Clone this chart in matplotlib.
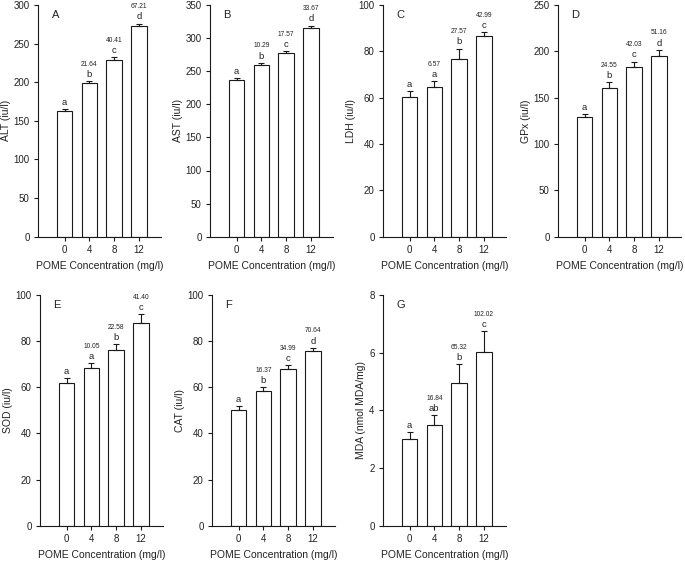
import matplotlib
matplotlib.use("Agg")
import matplotlib.pyplot as plt
import numpy as np

plt.rcParams['font.family'] = ['Liberation Sans', 'DejaVu Sans']

concentrations = ["0", "4", "8", "12"]

panel_letters = ["A", "B", "C", "D", "E", "F", "G"]
ylabels = ["ALT (iu/l)", "AST (iu/l)", "LDH (iu/l)", "GPx (iu/l)",
           "SOD (iu/l)", "CAT (iu/l)", "MDA (nmol MDA/mg)"]

alt_mean = [163, 198.5, 229, 272.5]
alt_err = [2.5, 3, 4, 3.5]
ast_mean = [236, 260, 277, 316]
ast_err = [3, 3, 3.5, 3]
ldh_mean = [60.3, 64.5, 76.9, 86.5]
ldh_err = [2.6, 2.8, 4.3, 1.7]
gpx_mean = [129.5, 160.8, 183.5, 195.3]
gpx_err = [3, 6, 5.5, 6.5]
sod_mean = [62, 68.2, 76.2, 88]
sod_err = [1.9, 2.2, 2.4, 3.6]
cat_mean = [50.1, 58.4, 67.8, 75.7]
cat_err = [1.6, 1.6, 1.9, 1.5]
mda_mean = [2.99, 3.49, 4.94, 6.01]
mda_err = [0.25, 0.35, 0.65, 0.75]

means = [alt_mean, ast_mean, ldh_mean, gpx_mean, sod_mean, cat_mean, mda_mean]
errs = [alt_err, ast_err, ldh_err, gpx_err, sod_err, cat_err, mda_err]

letters = [["a", "b", "c", "d"], ["a", "b", "c", "d"], ["a", "a", "b", "c"],
           ["a", "b", "c", "d"], ["a", "a", "b", "c"], ["a", "b", "c", "d"],
           ["a", "ab", "b", "c"]]
percents = [["", "21.64", "40.41", "67.21"], ["", "10.29", "17.57", "33.67"],
            ["", "6.57", "27.57", "42.99"], ["", "24.55", "42.03", "51.16"],
            ["", "10.05", "22.58", "41.40"], ["", "16.37", "34.99", "70.64"],
            ["", "16.84", "65.32", "102.02"]]

ymax = [300, 350, 100, 250, 100, 100, 8]
ystep = [50, 50, 20, 50, 20, 20, 2]

W, H = 685, 561
fig = plt.figure(figsize=(W / 100, H / 100), dpi=100)

lefts_px = [38, 210, 383, 558, 40, 212, 383]
width_px = 123
top_row = ((561 - 236.7) / 561, (236.7 - 5) / 561)
bot_row = ((561 - 525.7) / 561, (525.7 - 295) / 561)

txt = '#222222'
x = np.arange(len(concentrations))

for i in range(7):
    b, h = top_row if i < 4 else bot_row
    ax = fig.add_axes([lefts_px[i] / W, b, width_px / W, h])
    ax.bar(x, means[i], width=0.63, color='white', edgecolor='#1a1a1a',
           linewidth=0.8, zorder=2)
    ax.errorbar(x, means[i], yerr=[np.zeros(4), errs[i]], fmt='none',
                ecolor='#1a1a1a', elinewidth=0.8, capsize=2.2, capthick=0.8,
                zorder=3)
    for j in range(4):
        top = means[i][j] + errs[i][j]
        ax.annotate(letters[i][j], (x[j], top), xytext=(0, 1.5),
                    textcoords='offset points', ha='center', va='bottom',
                    fontsize=6.8, color=txt)
        if percents[i][j]:
            ax.annotate(percents[i][j], (x[j], top), xytext=(0, 9.5),
                        textcoords='offset points', ha='center', va='bottom',
                        fontsize=4.8, color=txt)
    ax.set_xlim(-1.08, 3.9)
    ax.set_ylim(0, ymax[i])
    ax.set_yticks(np.arange(0, ymax[i] + ystep[i] / 2, ystep[i]))
    ax.set_xticks(x)
    ax.set_xticklabels(concentrations)
    for s in ['top', 'right']:
        ax.spines[s].set_visible(False)
    for s in ['left', 'bottom']:
        ax.spines[s].set_linewidth(0.8)
        ax.spines[s].set_color('#1a1a1a')
    ax.tick_params(axis='both', direction='out', length=3, width=0.8,
                   labelsize=7, colors='#1a1a1a', labelcolor=txt, pad=3)
    ax.set_xlabel("POME Concentration (mg/l)", fontsize=7.5, color=txt, labelpad=4)
    ax.set_ylabel(ylabels[i], fontsize=7.5, color=txt, labelpad=2)
    ax.text(0.11, 0.955, panel_letters[i], transform=ax.transAxes,
            ha='left', va='center', fontsize=8, color=txt)

fig.savefig("out.png", dpi=100)
